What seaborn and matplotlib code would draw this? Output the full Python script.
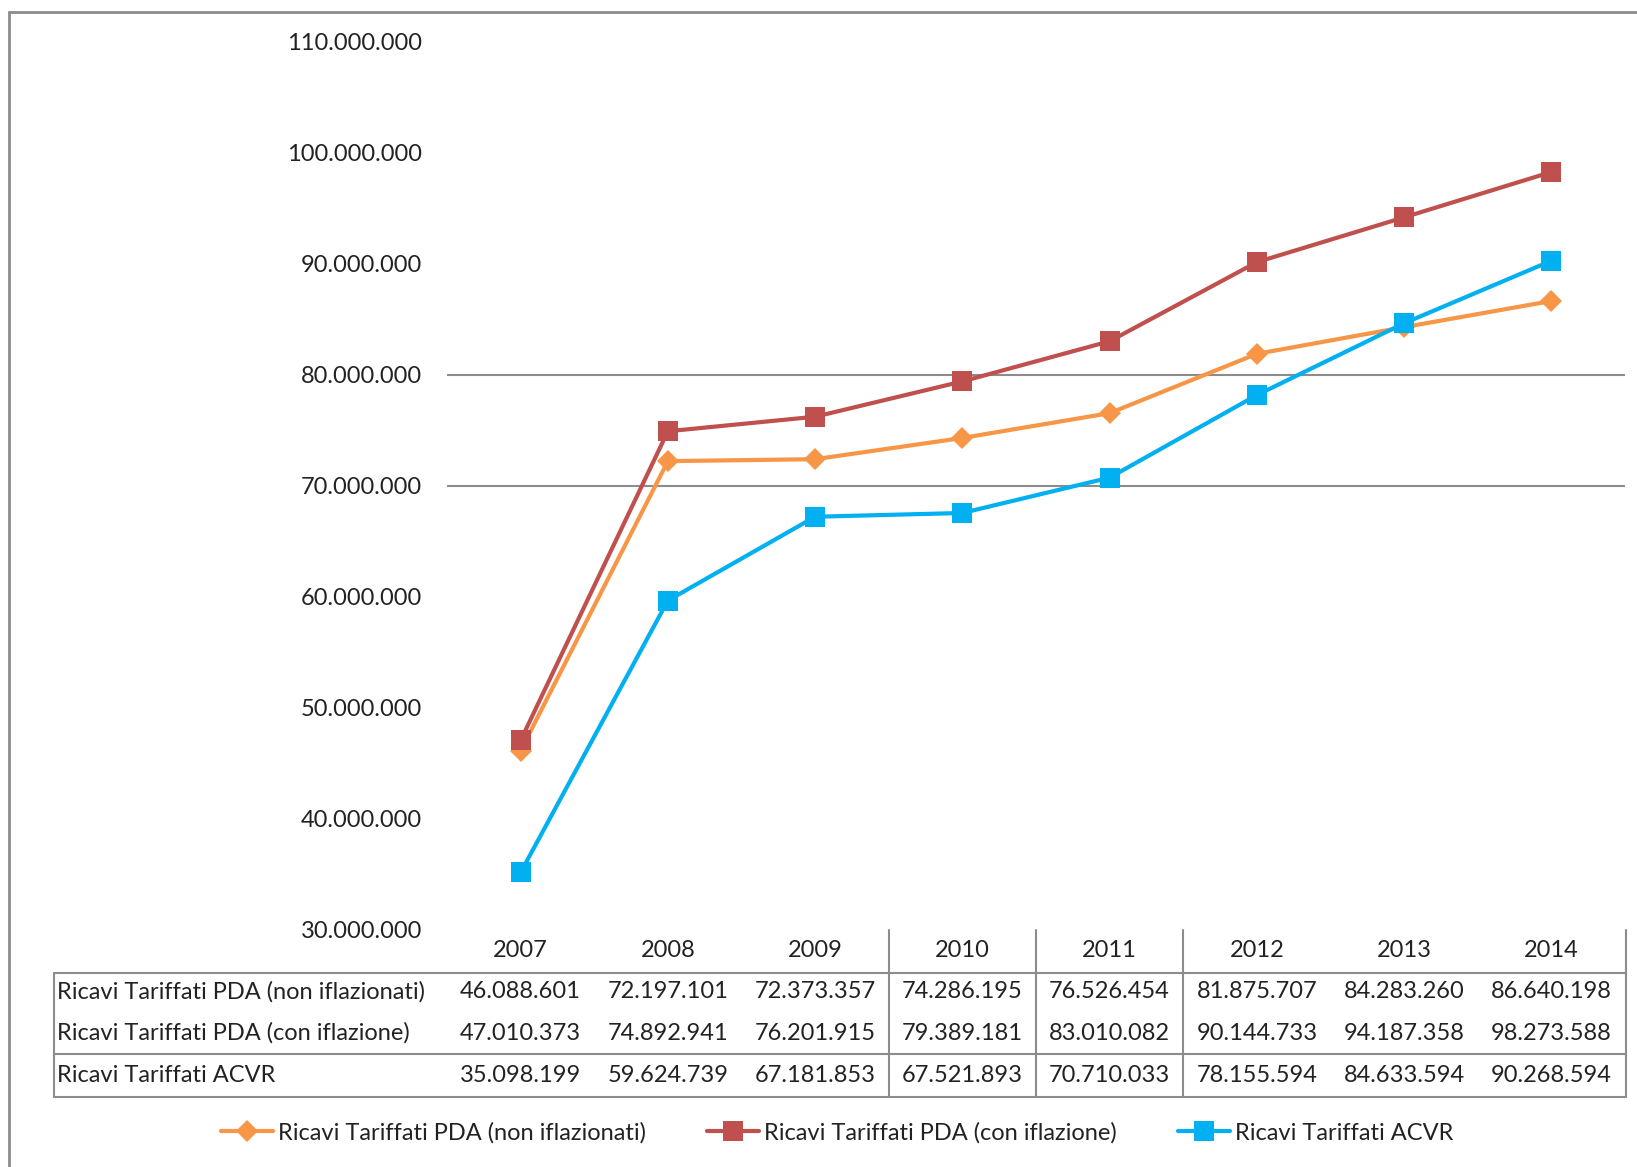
import matplotlib
matplotlib.use("Agg")
import matplotlib.pyplot as plt
from matplotlib.lines import Line2D
import pandas as pd
import seaborn as sns

# ---- data -------------------------------------------------------------
anni = [2007, 2008, 2009, 2010, 2011, 2012, 2013, 2014]

serie_nomi = [
    "Ricavi Tariffati PDA (non iflazionati)",
    "Ricavi Tariffati PDA (con iflazione)",
    "Ricavi Tariffati ACVR",
]

pda_non_inflazionati = [46088601, 72197101, 72373357, 74286195,
                        76526454, 81875707, 84283260, 86640198]
pda_con_inflazione = [47010373, 74892941, 76201915, 79389181,
                      83010082, 90144733, 94187358, 98273588]
acvr = [35098199, 59624739, 67181853, 67521893,
        70710033, 78155594, 84633594, 90268594]

y_ticks = [30000000, 40000000, 50000000, 60000000, 70000000,
           80000000, 90000000, 100000000, 110000000]
linee_griglia = [70000000, 80000000]

# ---- style ------------------------------------------------------------
colori = ["#F79646", "#C0504D", "#00B0F0"]
marcatori = ["D", "s", "s"]
dim_marcatori = [11, 14, 14]

sns.set_theme(style="white")
plt.rcParams["font.family"] = ["Lato", "DejaVu Sans"]
FS = 17
TXT = "#222222"
GRIGIO = "#8c8c8c"

W, H = 1637, 1167
fig = plt.figure(figsize=(W / 100, H / 100), dpi=100)


def fx(px):
    return px / W


def fy(py):
    return 1 - py / H


ax = fig.add_axes([fx(447), fy(929), fx(1625) - fx(447), fy(42) - fy(929)])

valori = [pda_non_inflazionati, pda_con_inflazione, acvr]
df = pd.DataFrame({
    "Anno": anni * 3,
    "Valore": pda_non_inflazionati + pda_con_inflazione + acvr,
    "Serie": [n for n in serie_nomi for _ in anni],
})

for v in linee_griglia:
    ax.axhline(v, color=GRIGIO, lw=1.5, zorder=1)

for nome, col, mk, ms in zip(serie_nomi, colori, marcatori, dim_marcatori):
    sns.lineplot(data=df[df["Serie"] == nome], x="Anno", y="Valore",
                 color=col, marker=mk, markersize=ms, markeredgewidth=0,
                 linewidth=3, ax=ax, legend=False, zorder=3)

ax.set_xlim(anni[0] - 0.5, anni[-1] + 0.5)
ax.set_ylim(y_ticks[0], y_ticks[-1])
ax.set_yticks(y_ticks)
ax.set_yticklabels([f"{v:,}".replace(",", ".") for v in y_ticks])
ax.set_xticks(anni)
ax.set_xticklabels([str(a) for a in anni])
ax.tick_params(axis="y", length=0, pad=18, labelsize=FS, labelcolor=TXT)
ax.tick_params(axis="x", length=0, pad=8, labelsize=FS, labelcolor=TXT)
ax.set_xlabel("")
ax.set_ylabel("")
ax.grid(False)
for s in ax.spines.values():
    s.set_visible(False)

# ---- data table under the axis ---------------------------------------
def linea(x0, y0, x1, y1, lw=1.5, color=GRIGIO):
    fig.add_artist(Line2D([fx(x0), fx(x1)], [fy(y0), fy(y1)],
                          color=color, lw=lw))


tab_sx, tab_dx = 54, 1626
righe_y = [992, 1033, 1075]
linea(tab_sx, 973, tab_dx, 973)
linea(tab_sx, 1054, tab_dx, 1054)
linea(tab_sx, 1097, tab_dx, 1097)
linea(tab_sx, 973, tab_sx, 1097)
linea(tab_dx, 930, tab_dx, 1097)
for xv in [889, 1036, 1183]:
    linea(xv, 930, xv, 1097)

trans = matplotlib.transforms.blended_transform_factory(ax.transData,
                                                        fig.transFigure)
for nome, serie, yr in zip(serie_nomi, valori, righe_y):
    fig.text(fx(57), fy(yr), nome, ha="left", va="center",
             fontsize=FS, color=TXT)
    for a, v in zip(anni, serie):
        ax.text(a, fy(yr), f"{v:,}".replace(",", "."), transform=trans,
                ha="center", va="center", fontsize=FS, color=TXT,
                clip_on=False)

# ---- outer chart frame -------------------------------------------------
linea(9, 12, 9, H, lw=2)
linea(9, 12, W, 12, lw=2)

# ---- legend ------------------------------------------------------------
maniglie = [Line2D([0], [0], color=c, lw=3, marker=m, markersize=ms,
                   markeredgewidth=0)
            for c, m, ms in zip(colori, marcatori, dim_marcatori)]
fig.legend(maniglie, serie_nomi, loc="center",
           bbox_to_anchor=(fx(837), fy(1133)), ncol=3, frameon=False,
           fontsize=FS, handlelength=2.2, handletextpad=0.2,
           columnspacing=2.6, labelcolor=TXT)

fig.savefig("out.png", dpi=100)
